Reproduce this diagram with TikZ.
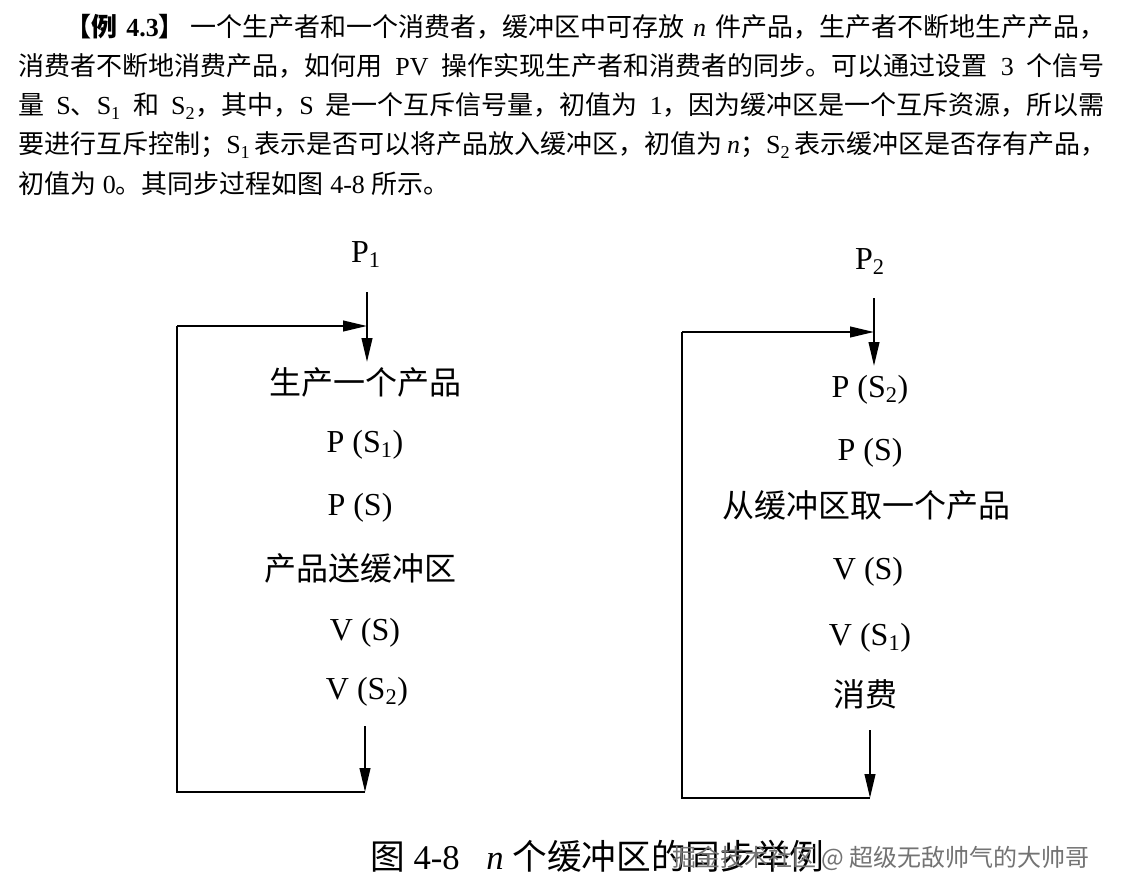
\documentclass[tikz,border=0pt]{standalone}
\usepackage{fontspec}
\setmainfont{Liberation Serif}
\newfontfamily\cjk{Noto Sans CJK SC}
\usetikzlibrary{arrows.meta}
\XeTeXlinebreaklocale "zh"
\XeTeXlinebreakskip=0pt plus 3pt minus 1pt
\newcommand\zhs[1]{{\cjk #1}}
\begin{document}
\begin{tikzpicture}[x=0.75pt,y=-0.75pt,
  line/.style={line width=1.5pt},
  arr/.style={line width=1.5pt,-{Triangle[length=18pt,width=8pt]}},
  lbl/.style={font=\fontsize{24}{28}\selectfont, inner sep=0pt},
  para/.style={font=\fontsize{19.5}{24}\selectfont, anchor=base west, inner sep=0pt}]
\fill[white] (0,0) rectangle (1136,895);
\useasboundingbox (0,0) rectangle (1136,895);

% paragraph
\node[para] (l1) at (65,37) {\hbox to 780pt{{\bfseries\zhs{【例} 4.3\zhs{】}}\hskip 4pt\zhs{一个生产者和一个消费者，缓冲区中可存放} \textit{n} \zhs{件产品，生产者不断地生产产品，}}};
\node[para] (l2) at (18,76) {\hbox to 815pt{\zhs{消费者不断地消费产品，如何用} PV \zhs{操作实现生产者和消费者的同步。可以通过设置} 3 \zhs{个信号}}};
\node[para] (l3) at (18,115) {\hbox to 815pt{\zhs{量} S\zhs{、}S\textsubscript{1} \zhs{和} S\textsubscript{2}\zhs{，其中，}S \zhs{是一个互斥信号量，初值为} 1\zhs{，因为缓冲区是一个互斥资源，所以需}}};
\node[para] (l4) at (18,154) {\hbox to 815pt{\zhs{要进行互斥控制；}S\textsubscript{1} \zhs{表示是否可以将产品放入缓冲区，初值为} \textit{n}\zhs{；}S\textsubscript{2} \zhs{表示缓冲区是否存有产品，}}};
\node[para] (l5) at (18,194) {\zhs{初值为} 0\zhs{。其同步过程如图} 4-8 \zhs{所示。}};

% left process
\node[lbl] (p1) at (366,255) {P\textsubscript{1}};
\node[lbl] (la) at (365,382) {\zhs{生产一个产品}};
\node[lbl] (lb) at (365,445) {P (S\textsubscript{1})};
\node[lbl] (lc) at (360,508) {P (S)};
\node[lbl] (ld) at (360,568) {\zhs{产品送缓冲区}};
\node[lbl] (le) at (365,633) {V (S)};
\node[lbl] (lf) at (367,692) {V (S\textsubscript{2})};

\coordinate (a1top) at (367,292);
\coordinate (a1tip) at (367,362);
\coordinate (t1) at (367,326);
\coordinate (tl1) at (177,326);
\coordinate (bl1) at (177,792);
\coordinate (br1) at (365,792);
\coordinate (b1top) at (365,726);
\draw[arr] (a1top) -- (a1tip);
\draw[arr] (b1top) -- (br1);
\draw[line] (br1) -- (bl1) -- (tl1);
\draw[arr] (tl1) -- (t1);

% right process
\node[lbl] (p2) at (870,262) {P\textsubscript{2}};
\node[lbl] (ra) at (870,390) {P (S\textsubscript{2})};
\node[lbl] (rb) at (870,453) {P (S)};
\node[lbl] (rc) at (866,505) {\zhs{从缓冲区取一个产品}};
\node[lbl] (rd) at (868,572) {V (S)};
\node[lbl] (re) at (870,638) {V (S\textsubscript{1})};
\node[lbl] (rf) at (865,694) {\zhs{消费}};

\coordinate (a2top) at (874,298);
\coordinate (a2tip) at (874,366);
\coordinate (t2) at (874,332);
\coordinate (tl2) at (682,332);
\coordinate (bl2) at (682,798);
\coordinate (br2) at (870,798);
\coordinate (b2top) at (870,730);
\draw[arr] (a2top) -- (a2tip);
\draw[arr] (b2top) -- (br2);
\draw[line] (br2) -- (bl2) -- (tl2);
\draw[arr] (tl2) -- (t2);

% caption and watermark
\node[anchor=base west, font=\fontsize{26}{30}\selectfont, inner sep=0pt] (cap) at (370,869) {\zhs{图} 4-8\hspace{20pt}\textit{n} \zhs{个缓冲区的同步举例}};
\node[anchor=base west, font=\cjk\fontsize{18}{22}\selectfont, text=black!55, inner sep=0pt] (wm) at (672,866) {掘金技术社区 @ 超级无敌帅气的大帅哥};
\end{tikzpicture}
\end{document}
